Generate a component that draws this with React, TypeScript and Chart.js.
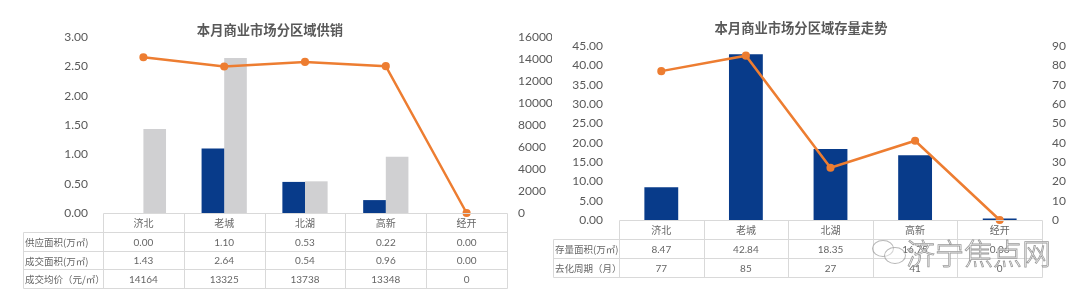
import React, { useEffect, useRef } from "react";
import { Chart, registerables } from "chart.js";

Chart.register(...registerables);

// ---------- data ----------
const districts = ["济北", "老城", "北湖", "高新", "经开"];
const supplyArea = [0.0, 1.1, 0.53, 0.22, 0.0];
const dealArea = [1.43, 2.64, 0.54, 0.96, 0.0];
const dealPrice = [14164, 13325, 13738, 13348, 0];
const stockArea = [8.47, 42.84, 18.35, 16.75, 0.06];
const destockCycle = [77, 85, 27, 41, 0];

const leftTitle = "本月商业市场分区域供销";
const rightTitle = "本月商业市场分区域存量走势";
const leftRowLabels = ["供应面积(万㎡)", "成交面积(万㎡)", "成交均价（元/㎡）"];
const rightRowLabels = ["存量面积(万㎡)", "去化周期（月）"];
const watermarkText = "济宁焦点网";

// ---------- styles ----------
const NAVY = "#083b8a";
const GRAY = "#d0d0d2";
const ORANGE = "#ed7d31";
const TEXT = "#595959";
const TABLE_TEXT = "#666666";
const LINE = "#d9d9d9";
const NUM_FONT = "Lato, 'Noto Sans CJK SC', sans-serif";
const CJK_FONT = "'Noto Sans CJK SC', Lato, sans-serif";

const fmt2 = (v: number) => v.toFixed(2);

const tablePlugin = {
  id: "dataTable",
  afterDraw(chart: any, _args: any, opts: any) {
    if (!opts || !opts.rows) return;
    const { ctx, chartArea } = chart;
    const xs = chart.scales.x;
    const n = opts.categories.length;
    const left = chartArea.left;
    const right = chartArea.right;
    const top = chartArea.bottom;
    const colW = (right - left) / n;
    const hh = opts.headerH;
    const rh = opts.rowH;
    const labelLeft = opts.labelLeft;
    const bottom = top + hh + rh * opts.rows.length;
    const px = (v: number) => Math.round(v) + 0.5;

    ctx.save();
    ctx.strokeStyle = LINE;
    ctx.lineWidth = 1;
    const seg = (x1: number, y1: number, x2: number, y2: number) => {
      ctx.beginPath();
      ctx.moveTo(px(x1), px(y1));
      ctx.lineTo(px(x2), px(y2));
      ctx.stroke();
    };
    seg(left, top, right, top);
    for (let i = 0; i <= opts.rows.length; i++) {
      const y = top + hh + rh * i;
      seg(labelLeft, y, right, y);
    }
    for (let i = 0; i <= n; i++) {
      seg(left + colW * i, top, left + colW * i, bottom);
    }
    seg(labelLeft, top + hh, labelLeft, bottom);

    ctx.fillStyle = TABLE_TEXT;
    ctx.textBaseline = "middle";
    ctx.font = `10px ${CJK_FONT}`;
    ctx.textAlign = "center";
    opts.categories.forEach((c: string, i: number) => {
      ctx.fillText(c, xs.getPixelForValue(i), top + hh / 2 + 1);
    });
    opts.rows.forEach((row: any, r: number) => {
      const cy = top + hh + rh * r + rh / 2 + 1;
      ctx.textAlign = "left";
      ctx.font = `9.5px ${CJK_FONT}`;
      ctx.fillText(row.label, labelLeft + 2, cy);
      ctx.textAlign = "center";
      ctx.font = `10px ${NUM_FONT}`;
      row.values.forEach((v: string, i: number) => {
        ctx.fillText(v, xs.getPixelForValue(i), cy);
      });
    });
    ctx.restore();
  },
};

function axis(position: string, max: number, step: number, width: number, pad: number, cb: (v: number) => string) {
  return {
    position,
    min: 0,
    max,
    grid: { display: false, drawTicks: false },
    border: { display: false },
    ticks: {
      stepSize: step,
      padding: pad,
      color: TEXT,
      font: { family: NUM_FONT, size: 12 },
      callback: (v: any) => cb(Number(v)),
    },
    afterFit: (a: any) => {
      a.width = width;
    },
  };
}

const leftConfig: any = {
  type: "bar",
  data: {
    labels: districts,
    datasets: [
      {
        type: "line",
        label: "成交均价",
        data: dealPrice,
        yAxisID: "y1",
        borderColor: ORANGE,
        backgroundColor: ORANGE,
        pointBackgroundColor: ORANGE,
        pointBorderColor: ORANGE,
        borderWidth: 2.5,
        pointRadius: 2.8,
        order: 0,
        clip: false,
      },
      {
        label: "供应面积",
        data: supplyArea,
        yAxisID: "y",
        backgroundColor: NAVY,
        categoryPercentage: 0.56,
        barPercentage: 1,
        order: 1,
      },
      {
        label: "成交面积",
        data: dealArea,
        yAxisID: "y",
        backgroundColor: GRAY,
        categoryPercentage: 0.56,
        barPercentage: 1,
        order: 2,
      },
    ],
  },
  options: {
    responsive: false,
    animation: false,
    devicePixelRatio: 1,
    layout: { padding: { top: 37, bottom: 84, left: 0, right: 0 } },
    plugins: {
      legend: { display: false },
      tooltip: { enabled: false },
      title: { display: false },
      dataTable: {
        categories: districts,
        headerH: 19,
        rowH: 18.6,
        labelLeft: 23,
        rows: [
          { label: leftRowLabels[0], values: supplyArea.map(fmt2) },
          { label: leftRowLabels[1], values: dealArea.map(fmt2) },
          { label: leftRowLabels[2], values: dealPrice.map(String) },
        ],
      },
    },
    scales: {
      x: { display: false, offset: true },
      y: axis("left", 3, 0.5, 103, 15, fmt2),
      y1: axis("right", 16000, 2000, 45, 11, (v) => String(v)),
    },
  },
  plugins: [tablePlugin],
};

const rightConfig: any = {
  type: "bar",
  data: {
    labels: districts,
    datasets: [
      {
        type: "line",
        label: "去化周期",
        data: destockCycle,
        yAxisID: "y1",
        borderColor: ORANGE,
        backgroundColor: ORANGE,
        pointBackgroundColor: ORANGE,
        pointBorderColor: ORANGE,
        borderWidth: 2.5,
        pointRadius: 2.8,
        order: 0,
        clip: false,
      },
      {
        label: "存量面积",
        data: stockArea,
        yAxisID: "y",
        backgroundColor: NAVY,
        categoryPercentage: 0.4,
        barPercentage: 1,
        minBarLength: 1.5,
        order: 1,
      },
    ],
  },
  options: {
    responsive: false,
    animation: false,
    devicePixelRatio: 1,
    layout: { padding: { top: 46, bottom: 77, left: 0, right: 0 } },
    plugins: {
      legend: { display: false },
      tooltip: { enabled: false },
      title: { display: false },
      dataTable: {
        categories: districts,
        headerH: 19,
        rowH: 19,
        labelLeft: 5,
        rows: [
          { label: rightRowLabels[0], values: stockArea.map(fmt2) },
          { label: rightRowLabels[1], values: destockCycle.map(String) },
        ],
      },
    },
    scales: {
      x: { display: false, offset: true },
      y: axis("left", 45, 5, 71, 16, fmt2),
      y1: axis("right", 90, 10, 38, 10, (v) => String(v)),
    },
  },
  plugins: [tablePlugin],
};

function ChartBox({ config, left, width }: { config: any; left: number; width: number }) {
  const ref = useRef<HTMLCanvasElement>(null);
  useEffect(() => {
    const c = new Chart(ref.current as HTMLCanvasElement, config);
    return () => c.destroy();
  }, []);
  return (
    <canvas
      ref={ref}
      width={width}
      height={297}
      style={{ position: "absolute", left, top: 0, width, height: 297 }}
    />
  );
}

const titleStyle: React.CSSProperties = {
  position: "absolute",
  top: 20,
  transform: "translateX(-50%)",
  whiteSpace: "nowrap",
  font: `bold 13.3px ${CJK_FONT}`,
  color: TEXT,
  lineHeight: "20px",
};

export default function App() {
  return (
    <div
      style={{
        position: "absolute",
        left: 0,
        top: 0,
        width: 1080,
        height: 297,
        background: "#fff",
        overflow: "hidden",
      }}
    >
      <ChartBox config={leftConfig} left={0} width={552} />
      <ChartBox config={rightConfig} left={548} width={532} />
      <div style={{ ...titleStyle, left: 270 }}>{leftTitle}</div>
      <div style={{ ...titleStyle, left: 801, top: 18 }}>{rightTitle}</div>
      {/* watermark */}
      <div
        style={{
          position: "absolute",
          left: 872,
          top: 240,
          width: 20,
          height: 15,
          border: "1px solid #999",
          borderRadius: "50%",
          opacity: 0.7,
        }}
      />
      <div
        style={{
          position: "absolute",
          left: 884,
          top: 247,
          width: 20,
          height: 15,
          border: "1px solid #999",
          borderRadius: "50%",
          background: "rgba(255,255,255,0.6)",
          opacity: 0.7,
        }}
      />
      <div
        style={{
          position: "absolute",
          left: 906,
          top: 234,
          font: `200 29px ${CJK_FONT}`,
          letterSpacing: 0,
          color: "rgba(255,255,255,0.85)",
          WebkitTextStroke: "0.8px #9a9a9a",
          whiteSpace: "nowrap",
          lineHeight: "36px",
        }}
      >
        {watermarkText}
      </div>
    </div>
  );
}
